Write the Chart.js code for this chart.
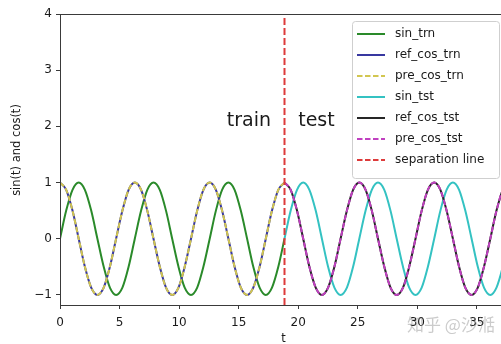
<!DOCTYPE html>
<html>
<head>
<meta charset="utf-8">
<script src="https://cdn.jsdelivr.net/npm/chart.js@4/dist/chart.umd.min.js"></script>
<style>
html,body{margin:0;padding:0;background:#fff;overflow:hidden;}
#wrap{width:501px;height:344px;overflow:hidden;position:relative;}
canvas{display:block;}
</style>
</head>
<body>
<div id="wrap"><canvas id="c" width="520" height="344"></canvas></div>
<script>
// ---- data ----
const t = [0,0.52,1.05,1.57,2.09,2.62,3.14,3.67,4.19,4.71,5.24,5.76,6.28,6.81,7.33,7.85,8.38,8.90,9.42,9.95,10.47,11.00,11.52,12.04,12.57,13.09,13.61,14.14,14.66,15.18,15.71,16.23,16.76,17.28,17.80,18.33,18.85,19.37,19.90,20.42,20.94,21.47,21.99,22.51,23.04,23.56,24.09,24.61,25.13,25.66,26.18,26.70,27.23,27.75,28.27,28.80,29.32,29.85,30.37,30.89,31.42,31.94,32.46,32.99,33.51,34.03,34.56,35.08,35.60,36.13,36.65,37.18,37.70];
const sinTrn = [0,0.5,0.87,1,0.87,0.5,0,-0.5,-0.87,-1,-0.87,-0.5,0,0.5,0.87,1,0.87,0.5,0,-0.5,-0.87,-1,-0.87,-0.5,0,0.5,0.87,1,0.87,0.5,0,-0.5,-0.87,-1,-0.87,-0.5,0];
const refCosTrn = [1,0.87,0.5,0,-0.5,-0.87,-1,-0.87,-0.5,0,0.5,0.87,1,0.87,0.5,0,-0.5,-0.87,-1,-0.87,-0.5,0,0.5,0.87,1,0.87,0.5,0,-0.5,-0.87,-1,-0.87,-0.5,0,0.5,0.87,1];
const preCosTrn = [1,0.87,0.5,0,-0.5,-0.87,-1,-0.87,-0.5,0,0.5,0.87,1,0.87,0.5,0,-0.5,-0.87,-1,-0.87,-0.5,0,0.5,0.87,1,0.87,0.5,0,-0.5,-0.87,-1,-0.87,-0.5,0,0.5,0.87,1];
const sinTst = [0,0.5,0.87,1,0.87,0.5,0,-0.5,-0.87,-1,-0.87,-0.5,0,0.5,0.87,1,0.87,0.5,0,-0.5,-0.87,-1,-0.87,-0.5,0,0.5,0.87,1,0.87,0.5,0,-0.5,-0.87,-1,-0.87,-0.5,0];
const refCosTst = [1,0.87,0.5,0,-0.5,-0.87,-1,-0.87,-0.5,0,0.5,0.87,1,0.87,0.5,0,-0.5,-0.87,-1,-0.87,-0.5,0,0.5,0.87,1,0.87,0.5,0,-0.5,-0.87,-1,-0.87,-0.5,0,0.5,0.87,1];
const preCosTst = [1,0.87,0.5,0,-0.5,-0.87,-1,-0.87,-0.5,0,0.5,0.87,1,0.87,0.5,0,-0.5,-0.87,-1,-0.87,-0.5,0,0.5,0.87,1,0.87,0.5,0,-0.5,-0.87,-1,-0.87,-0.5,0,0.5,0.87,1];
const sepT = 18.85;
const xTicks = [0,5,10,15,20,25,30,35];
const yTicks = [-1,0,1,2,3,4];
const annotations = [{text:'train', x:14, y:2},{text:'test', x:20, y:2}];

// ---- build ----
const tTrn = t.slice(0, sinTrn.length);
const tTst = t.slice(t.length - sinTst.length);
const pts = (xs, ys) => ys.map((v,i)=>({x:xs[i], y:v}));
const LW = 2;
const series = [
  {label:'sin_trn', data:pts(tTrn,sinTrn), borderColor:'#2a8a2a'},
  {label:'ref_cos_trn', data:pts(tTrn,refCosTrn), borderColor:'#3838a0'},
  {label:'pre_cos_trn', data:pts(tTrn,preCosTrn), borderColor:'#d2c650', borderDash:[5.5,2.5]},
  {label:'sin_tst', data:pts(tTst,sinTst), borderColor:'#34c2c2'},
  {label:'ref_cos_tst', data:pts(tTst,refCosTst), borderColor:'#262626'},
  {label:'pre_cos_tst', data:pts(tTst,preCosTst), borderColor:'#c040c0', borderDash:[5.5,2.5]},
  {label:'separation line', data:[{x:sepT,y:-1.18},{x:sepT,y:4}], borderColor:'#dd3b3b', borderDash:[7,3], cubicInterpolationMode:'default', borderWidth:2}
];
series.forEach((d,i)=>{
  d.order = series.length - i;
  d.pointRadius = 0;
  d.fill = false;
  if (d.borderWidth === undefined) d.borderWidth = LW;
  if (!d.cubicInterpolationMode) d.cubicInterpolationMode = 'monotone';
});

const FONT = 'DejaVu Sans';
const frame = {
  id:'frame',
  afterDraw(chart){
    const {ctx, chartArea:a, scales:{x,y}} = chart;
    ctx.save();
    ctx.strokeStyle = '#3a3a3a'; ctx.lineWidth = 1;
    ctx.strokeRect(a.left+0.5, a.top+0.5, a.right-a.left, a.bottom-a.top);
    ctx.fillStyle = '#1a1a1a';
    ctx.font = '19px "' + FONT + '"';
    ctx.textBaseline = 'alphabetic'; ctx.textAlign = 'left';
    annotations.forEach(n=>ctx.fillText(n.text, x.getPixelForValue(n.x), y.getPixelForValue(n.y)));
    const ds = chart.data.datasets;
    const bx = 352, by = 21, bw = 147, rowH = 21;
    const bh = rowH*ds.length + 10;
    ctx.fillStyle = 'rgba(255,255,255,0.85)';
    ctx.strokeStyle = '#cfcfcf'; ctx.lineWidth = 1;
    ctx.beginPath();
    if (ctx.roundRect) ctx.roundRect(bx+0.5, by+0.5, bw, bh, 3); else ctx.rect(bx+0.5, by+0.5, bw, bh);
    ctx.fill(); ctx.stroke();
    ctx.font = '12px "' + FONT + '"';
    ctx.textBaseline = 'middle';
    ds.forEach((d,i)=>{
      const yy = by + 13 + i*rowH;
      ctx.strokeStyle = d.borderColor; ctx.lineWidth = LW;
      ctx.setLineDash(d.borderDash ? [5.5,2.5] : []);
      ctx.beginPath(); ctx.moveTo(bx+5, yy); ctx.lineTo(bx+33, yy); ctx.stroke();
      ctx.setLineDash([]);
      ctx.fillStyle = '#1a1a1a';
      ctx.fillText(d.label, bx+43, yy);
    });
    ctx.fillStyle = '#1a1a1a';
    ctx.font = '11.5px "' + FONT + '"';
    ctx.textAlign = 'center'; ctx.textBaseline = 'middle';
    ctx.fillText('t', x.getPixelForValue(sepT) - 1, 339);
    ctx.save();
    ctx.translate(17, 150); ctx.rotate(-Math.PI/2);
    ctx.fillText('sin(t) and cos(t)', 0, 0);
    ctx.restore();
    ctx.fillStyle = 'rgba(140,140,140,0.45)';
    ctx.font = '17px "Noto Sans CJK SC"';
    ctx.textAlign = 'left';
    ctx.fillText('知乎 @沙湉', 407, 325);
    ctx.restore();
  }
};

new Chart(document.getElementById('c'), {
  type:'line',
  data:{datasets:series},
  options:{
    responsive:false, animation:false,
    layout:{padding:{left:0, right:11, top:14, bottom:0}},
    plugins:{legend:{display:false}, tooltip:{enabled:false}},
    scales:{
      x:{type:'linear', min:0, max:37.7,
        afterBuildTicks(s){ s.ticks = xTicks.map(v=>({value:v})); },
        afterFit(s){ s.height = 39; },
        border:{display:false},
        grid:{display:true, drawOnChartArea:false, drawTicks:true, tickLength:4, color:'#3a3a3a'},
        ticks:{font:{family:FONT, size:12}, color:'#1a1a1a', padding:7, maxRotation:0, autoSkip:false}
      },
      y:{type:'linear', min:-1.18, max:4,
        afterBuildTicks(s){ s.ticks = yTicks.map(v=>({value:v})); },
        afterFit(s){ s.width = 60; },
        border:{display:false},
        grid:{display:true, drawOnChartArea:false, drawTicks:true, tickLength:4, color:'#3a3a3a'},
        ticks:{font:{family:FONT, size:12}, color:'#1a1a1a', padding:4,
          callback:v=> v < 0 ? '\u2212' + Math.abs(v) : String(v)}
      }
    }
  },
  plugins:[frame]
});
</script>
</body>
</html>
